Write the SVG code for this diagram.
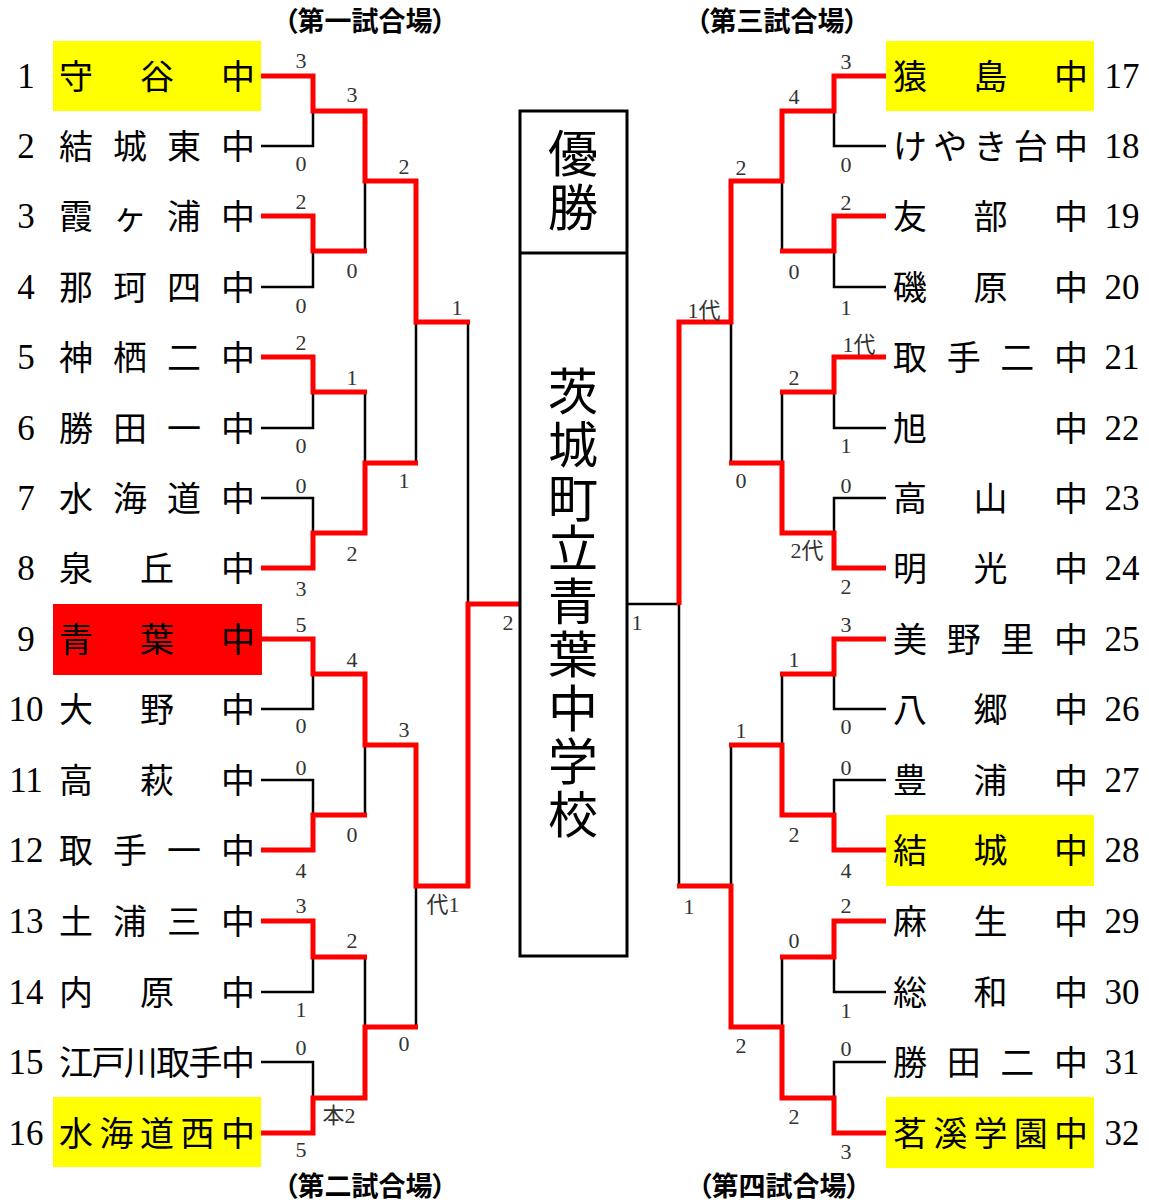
<svg xmlns="http://www.w3.org/2000/svg" width="1149" height="1204" viewBox="0 0 1149 1204">
<style>
.nm{font-family:"Noto Sans CJK JP","Noto Sans CJK SC",sans-serif;font-size:34px;fill:#000;text-anchor:middle}
.num{font-family:"Liberation Serif",serif;font-size:35px;fill:#000;text-anchor:middle}
.sc{font-family:"Liberation Serif","Noto Sans CJK JP",serif;font-size:22px;fill:#333;text-anchor:middle}
.hd{font-family:"Noto Sans CJK JP",sans-serif;font-weight:bold;font-size:27px;fill:#000;text-anchor:middle;font-feature-settings:"palt"}
.big{font-family:"Noto Sans CJK JP",sans-serif;font-size:50px;fill:#000;text-anchor:middle}
.r{stroke:#ff0000;stroke-width:5;fill:none;stroke-linejoin:miter}
.k{stroke:#000;stroke-width:2.5;fill:none}
.hy{fill:#ffff00}
.hr{fill:#ff0000}
</style>
<rect width="1149" height="1204" fill="#fff"/>

<g id="headings">
<text class="hd" x="365" y="31">（第一試合場）</text>
<text class="hd" x="365" y="1196">（第二試合場）</text>
<text class="hd" x="777" y="31">（第三試合場）</text>
<text class="hd" x="779" y="1196">（第四試合場）</text>
</g>

<g id="team-highlights">
<rect class="hy" x="53" y="41" width="208" height="70"/>
<rect class="hr" x="53" y="604" width="209" height="71"/>
<rect class="hy" x="53" y="1097" width="208" height="70"/>
<rect class="hy" x="886" y="41" width="208" height="70"/>
<rect class="hy" x="886" y="815" width="208" height="71"/>
<rect class="hy" x="886" y="1097" width="208" height="71"/>
</g>

<g id="connectors">
<path class="k" d="M261 146H313V111M261 287H313V251M365 181V251M261 428H313V392M365 392V463M261 498H313V533M416 322V463M468 322V604M261 709H313V674M365 745V815M261 780H313V815M261 992H313V957M365 957V1027M261 1062H313V1098M416 886V1027"/>
<path class="k" d="M886 146H834V111M782 181V251M886 287H834V251M731 322V463M886 428H834V392M782 392V463M886 498H834V533M627 604H679V886M886 709H834V674M782 674V745M731 745V886M886 780H834V815M886 992H834V957M782 957V1027M886 1062H834V1098"/>
<path class="r" d="M261 76H313V111H365V181H416V322H470"/>
<path class="r" d="M261 216H313V251H367"/>
<path class="r" d="M261 357H313V392H367"/>
<path class="r" d="M261 568H313V533H365V463H418"/>
<path class="r" d="M261 639H313V674H365V745H416V886H468V604H520"/>
<path class="r" d="M261 850H313V815H367"/>
<path class="r" d="M261 921H313V957H367"/>
<path class="r" d="M261 1133H313V1098H365V1027H418"/>
<path class="r" d="M886 76H834V111H782V181H731V322H679V605"/>
<path class="r" d="M886 216H834V251H780"/>
<path class="r" d="M886 357H834V392H780"/>
<path class="r" d="M886 568H834V533H782V463H729"/>
<path class="r" d="M886 639H834V674H780"/>
<path class="r" d="M886 850H834V815H782V745H729"/>
<path class="r" d="M886 921H834V957H780"/>
<path class="r" d="M886 1133H834V1098H782V1027H731V886H677"/>
</g>

<g id="scores">
<text class="sc" x="301" y="68">3</text>
<text class="sc" x="301" y="171">0</text>
<text class="sc" x="352" y="102">3</text>
<text class="sc" x="404" y="174">2</text>
<text class="sc" x="301" y="209">2</text>
<text class="sc" x="352" y="278">0</text>
<text class="sc" x="301" y="313">0</text>
<text class="sc" x="457" y="315">1</text>
<text class="sc" x="301" y="350">2</text>
<text class="sc" x="352" y="385">1</text>
<text class="sc" x="301" y="453">0</text>
<text class="sc" x="301" y="493">0</text>
<text class="sc" x="404" y="488">1</text>
<text class="sc" x="352" y="561">2</text>
<text class="sc" x="301" y="596">3</text>
<text class="sc" x="301" y="632">5</text>
<text class="sc" x="352" y="667">4</text>
<text class="sc" x="301" y="733">0</text>
<text class="sc" x="404" y="737">3</text>
<text class="sc" x="301" y="775">0</text>
<text class="sc" x="352" y="842">0</text>
<text class="sc" x="301" y="878">4</text>
<text class="sc" x="443" y="912">代1</text>
<text class="sc" x="301" y="913">3</text>
<text class="sc" x="352" y="948">2</text>
<text class="sc" x="301" y="1017">1</text>
<text class="sc" x="301" y="1055">0</text>
<text class="sc" x="404" y="1051">0</text>
<text class="sc" x="339" y="1123">本2</text>
<text class="sc" x="301" y="1157">5</text>
<text class="sc" x="508" y="630">2</text>
<text class="sc" x="637" y="630">1</text>
<text class="sc" x="846" y="69">3</text>
<text class="sc" x="794" y="104">4</text>
<text class="sc" x="846" y="172">0</text>
<text class="sc" x="741" y="175">2</text>
<text class="sc" x="846" y="210">2</text>
<text class="sc" x="794" y="279">0</text>
<text class="sc" x="846" y="315">1</text>
<text class="sc" x="704" y="318">1代</text>
<text class="sc" x="859" y="352">1代</text>
<text class="sc" x="794" y="385">2</text>
<text class="sc" x="846" y="453">1</text>
<text class="sc" x="741" y="488">0</text>
<text class="sc" x="846" y="493">0</text>
<text class="sc" x="807" y="558">2代</text>
<text class="sc" x="846" y="594">2</text>
<text class="sc" x="846" y="632">3</text>
<text class="sc" x="794" y="667">1</text>
<text class="sc" x="846" y="734">0</text>
<text class="sc" x="741" y="738">1</text>
<text class="sc" x="846" y="775">0</text>
<text class="sc" x="794" y="842">2</text>
<text class="sc" x="846" y="878">4</text>
<text class="sc" x="689" y="914">1</text>
<text class="sc" x="846" y="913">2</text>
<text class="sc" x="794" y="948">0</text>
<text class="sc" x="846" y="1018">1</text>
<text class="sc" x="741" y="1053">2</text>
<text class="sc" x="846" y="1056">0</text>
<text class="sc" x="794" y="1124">2</text>
<text class="sc" x="846" y="1159">3</text>
</g>

<g id="champion">
<rect x="520" y="111" width="107" height="845" fill="none" stroke="#000" stroke-width="3"/>
<line x1="520" y1="253" x2="627" y2="253" stroke="#000" stroke-width="3"/>
<text class="big" x="573 573" y="172 226">優勝</text>
<text class="big" x="573 573 573 573 573 573 573 573 573" y="410 463 517 567 620 673 727 780 833">茨城町立青葉中学校</text>
</g>

<g id="team-1"><text class="num" x="26" y="88">1</text><text class="nm" x="76 157 238" y="89">守谷中</text></g>
<g id="team-2"><text class="num" x="26" y="158">2</text><text class="nm" x="76 130 184 238" y="159">結城東中</text></g>
<g id="team-3"><text class="num" x="26" y="228">3</text><text class="nm" x="76 130 184 238" y="229">霞ヶ浦中</text></g>
<g id="team-4"><text class="num" x="26" y="299">4</text><text class="nm" x="76 130 184 238" y="300">那珂四中</text></g>
<g id="team-5"><text class="num" x="26" y="369">5</text><text class="nm" x="76 130 184 238" y="370">神栖二中</text></g>
<g id="team-6"><text class="num" x="26" y="440">6</text><text class="nm" x="76 130 184 238" y="441">勝田一中</text></g>
<g id="team-7"><text class="num" x="26" y="510">7</text><text class="nm" x="76 130 184 238" y="511">水海道中</text></g>
<g id="team-8"><text class="num" x="26" y="580">8</text><text class="nm" x="76 157 238" y="581">泉丘中</text></g>
<g id="team-9"><text class="num" x="26" y="651">9</text><text class="nm" x="76 157 238" y="652">青葉中</text></g>
<g id="team-10"><text class="num" x="26" y="721">10</text><text class="nm" x="76 157 238" y="722">大野中</text></g>
<g id="team-11"><text class="num" x="26" y="792">11</text><text class="nm" x="76 157 238" y="793">高萩中</text></g>
<g id="team-12"><text class="num" x="26" y="862">12</text><text class="nm" x="76 130 184 238" y="863">取手一中</text></g>
<g id="team-13"><text class="num" x="26" y="933">13</text><text class="nm" x="76 130 184 238" y="934">土浦三中</text></g>
<g id="team-14"><text class="num" x="26" y="1004">14</text><text class="nm" x="76 157 238" y="1005">内原中</text></g>
<g id="team-15"><text class="num" x="26" y="1074">15</text><text class="nm" x="76 108.4 140.8 173.2 205.6 238" y="1075">江戸川取手中</text></g>
<g id="team-16"><text class="num" x="26" y="1145">16</text><text class="nm" x="76 116.5 157 197.5 238" y="1146">水海道西中</text></g>

<g id="team-17"><text class="num" x="1122" y="88">17</text><text class="nm" x="910 990.5 1071" y="89">猿島中</text></g>
<g id="team-18"><text class="num" x="1122" y="158">18</text><text class="nm" x="910 950.25 990.5 1030.75 1071" y="159">けやき台中</text></g>
<g id="team-19"><text class="num" x="1122" y="228">19</text><text class="nm" x="910 990.5 1071" y="229">友部中</text></g>
<g id="team-20"><text class="num" x="1122" y="299">20</text><text class="nm" x="910 990.5 1071" y="300">磯原中</text></g>
<g id="team-21"><text class="num" x="1122" y="369">21</text><text class="nm" x="910 963.7 1017.3 1071" y="370">取手二中</text></g>
<g id="team-22"><text class="num" x="1122" y="440">22</text><text class="nm" x="910 1071" y="441">旭中</text></g>
<g id="team-23"><text class="num" x="1122" y="510">23</text><text class="nm" x="910 990.5 1071" y="511">高山中</text></g>
<g id="team-24"><text class="num" x="1122" y="580">24</text><text class="nm" x="910 990.5 1071" y="581">明光中</text></g>
<g id="team-25"><text class="num" x="1122" y="651">25</text><text class="nm" x="910 963.7 1017.3 1071" y="652">美野里中</text></g>
<g id="team-26"><text class="num" x="1122" y="721">26</text><text class="nm" x="910 990.5 1071" y="722">八郷中</text></g>
<g id="team-27"><text class="num" x="1122" y="792">27</text><text class="nm" x="910 990.5 1071" y="793">豊浦中</text></g>
<g id="team-28"><text class="num" x="1122" y="862">28</text><text class="nm" x="910 990.5 1071" y="863">結城中</text></g>
<g id="team-29"><text class="num" x="1122" y="933">29</text><text class="nm" x="910 990.5 1071" y="934">麻生中</text></g>
<g id="team-30"><text class="num" x="1122" y="1004">30</text><text class="nm" x="910 990.5 1071" y="1005">総和中</text></g>
<g id="team-31"><text class="num" x="1122" y="1074">31</text><text class="nm" x="910 963.7 1017.3 1071" y="1075">勝田二中</text></g>
<g id="team-32"><text class="num" x="1122" y="1145">32</text><text class="nm" x="910 950.25 990.5 1030.75 1071" y="1146">茗溪学園中</text></g>
</svg>
